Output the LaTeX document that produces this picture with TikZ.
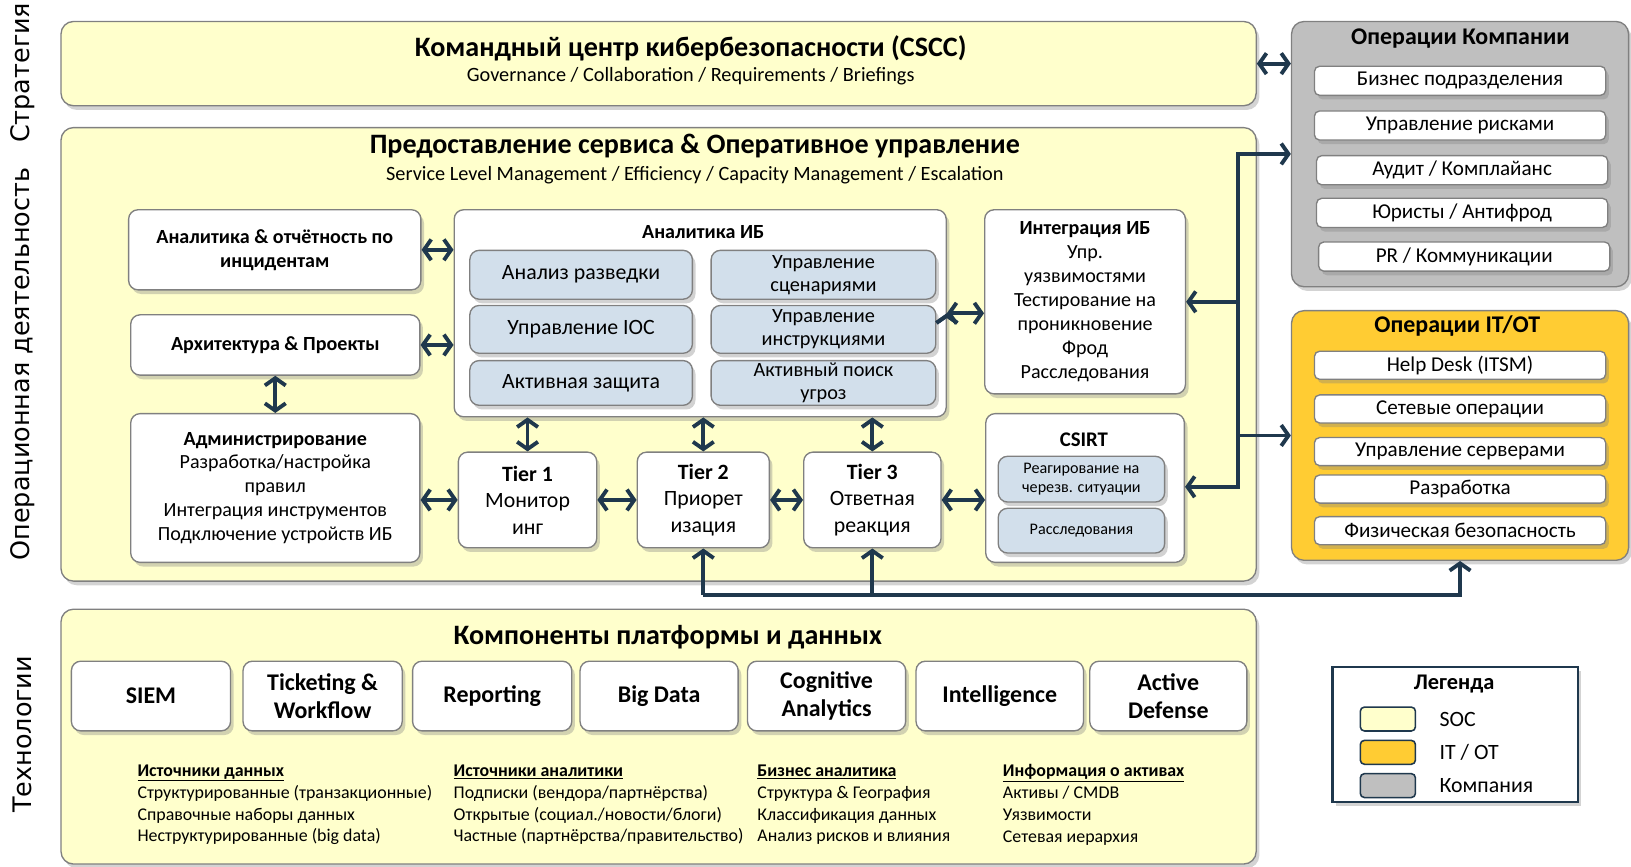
\documentclass[tikz,border=0pt]{standalone}
\usepackage{fontspec}
\setmainfont{Carlito}
\newfontfamily\sidefont{DejaVu Sans}
\usetikzlibrary{arrows.meta,shadows,positioning}
\definecolor{socyellow}{RGB}{255,255,204}
\definecolor{itotgold}{RGB}{255,204,51}
\definecolor{compgray}{RGB}{191,191,191}
\definecolor{ibblue}{RGB}{210,223,235}
\definecolor{linknavy}{RGB}{31,56,77}
\definecolor{edgegray}{RGB}{128,128,128}
\tikzset{>={Straight Barb[length=7pt,width=20pt]}}
\tikzset{
  shade/.style={drop shadow={shadow xshift=3pt,shadow yshift=-4pt,opacity=0.35}},
  panel/.style={draw=edgegray,line width=1.3pt,rounded corners=12pt,anchor=north west,shade},
  card/.style={draw=edgegray,line width=1.3pt,rounded corners=9pt,fill=white,anchor=north west,align=center,inner sep=1pt,shade},
  bluecard/.style={card,fill=ibblue},
  swatch/.style={draw=linknavy,line width=1.5pt,rounded corners=4pt,anchor=north west,minimum width=53pt,minimum height=23pt},
  link/.style={draw=linknavy,line width=3.7pt},
  side/.style={rotate=90,font=\sidefont\fontsize{24.5}{28}\selectfont},
  bigttl/.style={font=\fontsize{27}{31}\selectfont\bfseries},
  subttl/.style={font=\fontsize{19.5}{24}\selectfont},
  boxtxt/.style={font=\fontsize{19.3}{23}\selectfont},
  boxbf/.style={font=\fontsize{19.3}{23}\selectfont\bfseries},
  bluetxt/.style={font=\fontsize{21}{24}\selectfont},
  bluetwo/.style={font=\fontsize{19.5}{22}\selectfont},
  smalltxt/.style={font=\fontsize{15.5}{18}\selectfont},
  tiertxt/.style={font=\fontsize{21}{25.5}\selectfont},
  techtxt/.style={font=\fontsize{23}{27}\selectfont\bfseries},
  itemtxt/.style={font=\fontsize{20.3}{23}\selectfont},
  headtxt/.style={font=\fontsize{23}{27}\selectfont\bfseries},
  legtxt/.style={font=\fontsize{21}{25}\selectfont},
  notetxt/.style={font=\fontsize{17.2}{21}\selectfont,anchor=north west,align=left,inner sep=0pt},
}

\begin{document}
\begin{tikzpicture}[x=1pt,y=-1pt]
  \useasboundingbox (0,0) rectangle (1568,833);

  % side labels
  \node[side] (lstrat) at (22,70) {Стратегия};
  \node[side] (lops) at (22,350) {Операционная деятельность};
  \node[side] (ltech) at (22,706) {Технологии};

  % strategy
  \node[panel,fill=socyellow,minimum width=1149pt,minimum height=81pt] (cscc) at (58,20) {};
  \node[bigttl] (cscct) at (664,46) {Командный центр кибербезопасности (CSCC)};
  \node[subttl] (csccs) at (664,73) {Governance / Collaboration / Requirements / Briefings};

  % operations
  \node[panel,fill=socyellow,minimum width=1149pt,minimum height=436pt] (svc) at (58,122) {};
  \node[bigttl] (svct) at (668,140) {Предоставление сервиса \& Оперативное управление};
  \node[subttl] (svcs) at (668,168) {Service Level Management / Efficiency / Capacity Management / Escalation};

  \node[card,boxbf,minimum width=281pt,minimum height=77pt] (rep) at (123,201) {Аналитика \& отчётность по\\инцидентам};
  \node[card,boxbf,minimum width=278pt,minimum height=58pt] (arch) at (125,302) {Архитектура \& Проекты};
  \node[card,boxtxt,minimum width=278pt,minimum height=143pt] (adm) at (125,397)
    {\textbf{Администрирование}\\Разработка/настройка\\правил\\Интеграция инструментов\\Подключение устройств ИБ};

  \node[card,minimum width=473pt,minimum height=199pt] (ib) at (436,201) {};
  \node[boxbf] (ibt) at (676,223) {Аналитика ИБ};
  \node[bluecard,bluetxt,minimum width=214pt,minimum height=47pt] (intel) at (451,240) {Анализ разведки};
  \node[bluecard,bluetwo,minimum width=216pt,minimum height=47pt] (scen) at (683,240) {Управление\\сценариями};
  \node[bluecard,bluetxt,minimum width=214pt,minimum height=46pt] (ioc) at (451,293) {Управление IOC};
  \node[bluecard,bluetwo,minimum width=216pt,minimum height=46pt] (instr) at (683,293) {Управление\\инструкциями};
  \node[bluecard,bluetxt,minimum width=214pt,minimum height=43pt] (adef) at (451,346) {Активная защита};
  \node[bluecard,bluetwo,minimum width=216pt,minimum height=43pt] (hunt) at (683,346) {Активный поиск\\угроз};

  \node[card,boxtxt,minimum width=193pt,minimum height=177pt] (integ) at (946,201)
    {\textbf{Интеграция ИБ}\\Упр.\\уязвимостями\\Тестирование на\\проникновение\\Фрод\\Расследования};

  \node[card,minimum width=191pt,minimum height=143pt] (csirt) at (947,397) {};
  \node[font=\fontsize{20}{24}\selectfont\bfseries] (csirtt) at (1042,423) {CSIRT};
  \node[bluecard,smalltxt,minimum width=160pt,minimum height=44pt] (emerg) at (959,438) {Реагирование на\\черезв. ситуации};
  \node[bluecard,smalltxt,minimum width=160pt,minimum height=43pt] (inv) at (959,488) {Расследования};

  \node[card,tiertxt,minimum width=133pt,minimum height=92pt] (t1) at (440,434) {\textbf{Tier 1}\\Монитор\\инг};
  \node[card,tiertxt,minimum width=127pt,minimum height=92pt] (t2) at (612,434) {\textbf{Tier 2}\\Приорет\\изация};
  \node[card,tiertxt,minimum width=132pt,minimum height=92pt] (t3) at (772,434) {\textbf{Tier 3}\\Ответная\\реакция};

  % technology
  \node[panel,fill=socyellow,minimum width=1149pt,minimum height=245pt] (plat) at (58,585) {};
  \node[bigttl] (platt) at (642,613) {Компоненты платформы и данных};
  \node[card,techtxt,minimum width=153pt,minimum height=67pt] (siem) at (68,635) {SIEM};
  \node[card,techtxt,minimum width=153pt,minimum height=67pt] (tick) at (233,635) {Ticketing \&\\Workflow};
  \node[card,techtxt,minimum width=153pt,minimum height=67pt] (repo) at (396,635) {Reporting};
  \node[card,techtxt,minimum width=152pt,minimum height=67pt] (bigd) at (557,635) {Big Data};
  \node[card,techtxt,minimum width=152pt,minimum height=67pt] (cogn) at (718,635) {Cognitive\\Analytics};
  \node[card,techtxt,minimum width=161pt,minimum height=67pt] (intl) at (880,635) {Intelligence};
  \node[card,techtxt,minimum width=151pt,minimum height=67pt] (adf) at (1047,635) {Active\\Defense};

  \node[notetxt] (srcdata) at (132,735) {\underline{\textbf{Источники данных}}\\Структурированные (транзакционные)\\Справочные наборы данных\\Неструктурированные (big data)};
  \node[notetxt] (srcti) at (436,735) {\underline{\textbf{Источники аналитики}}\\Подписки (вендора/партнёрства)\\Открытые (социал./новости/блоги)\\Частные (партнёрства/правительство)};
  \node[notetxt] (bizan) at (728,735) {\underline{\textbf{Бизнес аналитика}}\\Структура \& География\\Классификация данных\\Анализ рисков и влияния};
  \node[notetxt] (assets) at (964,735) {\underline{\textbf{Информация о активах}}\\Активы / CMDB\\Уязвимости\\Сетевая иерархия};

  % company operations
  \node[panel,fill=compgray,minimum width=324pt,minimum height=255pt] (comp) at (1241,20) {};
  \node[headtxt] (compt) at (1404,37) {Операции Компании};
  \node[card,itemtxt,minimum width=280pt,minimum height=28pt,rounded corners=5pt] (bu) at (1263,63) {Бизнес подразделения};
  \node[card,itemtxt,minimum width=280pt,minimum height=28pt,rounded corners=5pt] (risk) at (1263,106) {Управление рисками};
  \node[card,itemtxt,minimum width=280pt,minimum height=28pt,rounded corners=5pt] (audit) at (1265,149) {Аудит / Комплайанс};
  \node[card,itemtxt,minimum width=280pt,minimum height=28pt,rounded corners=5pt] (legal) at (1265,190) {Юристы / Антифрод};
  \node[card,itemtxt,minimum width=280pt,minimum height=28pt,rounded corners=5pt] (pr) at (1267,232) {PR / Коммуникации};

  % IT/OT operations
  \node[panel,fill=itotgold,minimum width=324pt,minimum height=240pt] (itot) at (1241,298) {};
  \node[headtxt] (itott) at (1401,313) {Операции IT/OT};
  \node[card,itemtxt,minimum width=280pt,minimum height=27pt,rounded corners=5pt] (help) at (1263,337) {Help Desk (ITSM)};
  \node[card,itemtxt,minimum width=280pt,minimum height=27pt,rounded corners=5pt] (net) at (1263,379) {Сетевые операции};
  \node[card,itemtxt,minimum width=280pt,minimum height=27pt,rounded corners=5pt] (srv) at (1263,420) {Управление серверами};
  \node[card,itemtxt,minimum width=280pt,minimum height=27pt,rounded corners=5pt] (dev) at (1263,456) {Разработка};
  \node[card,itemtxt,minimum width=280pt,minimum height=27pt,rounded corners=5pt] (phys) at (1263,496) {Физическая безопасность};

  % legend
  \node[draw=linknavy,line width=2pt,fill=white,anchor=north west,minimum width=236pt,minimum height=130pt,shade] (legend) at (1280,640) {};
  \node[font=\fontsize{21.5}{25}\selectfont\bfseries] (legendt) at (1398,658) {Легенда};
  \node[swatch,fill=socyellow] (sw1) at (1307,679) {};
  \node[swatch,fill=itotgold] (sw2) at (1307,711) {};
  \node[swatch,fill=compgray] (sw3) at (1307,743) {};
  \node[legtxt,right=19pt of sw1] (lg1) {SOC};
  \node[legtxt,right=19pt of sw2] (lg2) {IT / OT};
  \node[legtxt,right=19pt of sw3] (lg3) {Компания};

  % connectors
  \path[link,<->]
    (cscc.east) edge (cscc.east -| comp.west)
    (rep.east) edge (rep.east -| ib.west)
    (arch.east) edge (arch.east -| ib.west)
    (arch.south) edge (arch.south |- adm.north)
    (t1.west) edge (t1.west -| adm.east)
    (t1.east) edge (t2.west)
    (t2.east) edge (t3.west)
    (t3.east) edge (t3.east -| csirt.west)
    (t1.north) edge (t1.north |- ib.south)
    (t2.north) edge (t2.north |- ib.south)
    (t3.north) edge (t3.north |- ib.south)
    (ib.east) edge (ib.east -| integ.west);

  \coordinate (bustop) at (1190,148);
  \coordinate (busbot) at (1190,468);
  \coordinate (low) at (676,572);
  \draw[link,->] (busbot) -- (bustop) -- (bustop -| comp.west);
  \draw[link,->] (bustop) -- (busbot) -- (busbot -| csirt.east);
  \draw[link,->] (busbot |- integ.east) -- (integ.east);
  \draw[link,->] (busbot |- itot.west) -- (itot.west);

  \draw[link,->] (t2.south |- low) -- (t2.south);
  \draw[link,->] (t3.south |- low) -- (t3.south);
  \draw[link,->] (t2.south |- low) -- (itot.south |- low) -- (itot.south);
\end{tikzpicture}
\end{document}
